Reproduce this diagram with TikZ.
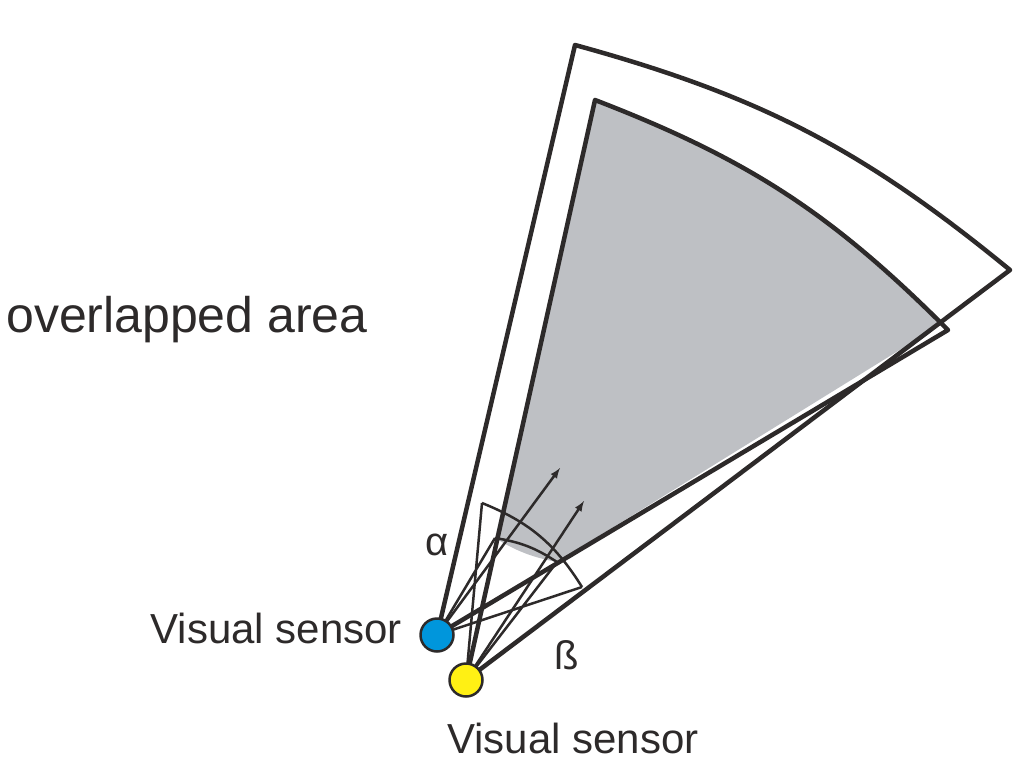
\documentclass[tikz,border=0pt]{standalone}
\usepackage{fontspec}
\setmainfont{Liberation Sans}
\definecolor{sensorblue}{RGB}{0,150,220}
\definecolor{sensoryellow}{RGB}{255,240,20}
\definecolor{areagray}{RGB}{190,192,196}
\definecolor{linegray}{RGB}{45,42,42}
\tikzset{
  edge/.style={draw=linegray,line width=4.5pt,line join=round},
  thin edge/.style={draw=linegray,line width=2.5pt},
  sensor/.style={circle,draw=linegray,line width=2.5pt,minimum size=33pt,inner sep=0pt},
  lbl/.style={text=linegray,inner sep=0pt}
}
\begin{document}
\begin{tikzpicture}[x=1pt,y=-1pt]
   \useasboundingbox (0,0) rectangle (1024,765);

   \coordinate (bs) at (437,635);
   \coordinate (ys) at (466,680);
   \coordinate (btop) at (575,45);
   \coordinate (ytop) at (595,100);
   \coordinate (yright) at (1010,270);
   \coordinate (bright) at (948,330);
   \coordinate (a1) at (482,503);
   \coordinate (a2) at (582,587);
   \coordinate (b1) at (495,538);
   \coordinate (b2) at (557,562);

   % overlapped area
   \fill[areagray] (ytop) to[bend left=12] (940,325) -- (b2) to[bend left=10] (b1) -- cycle;

   % sectors
   \draw[edge] (bs) -- (btop) to[bend left=12] (yright) -- (ys);
   \draw[edge] (ys) -- (ytop) to[bend left=12] (bright) -- (bs);

   % angles
   \draw[thin edge] (a1) to[bend left=18] (a2);
   \draw[thin edge] (b1) to[bend left=12] (b2);
   \draw[thin edge] (bs) -- (b1) (bs) -- (a2) (ys) -- (a1) (ys) -- (b2);
   \draw[thin edge,-latex] (bs) -- (560,468);
   \draw[thin edge,-latex] (ys) -- (584,501);

   \node[sensor,fill=sensorblue] (blue) at (bs) {};
   \node[sensor,fill=sensoryellow] (yellow) at (ys) {};

   \node[lbl,font=\fontsize{50}{50}\selectfont,anchor=west] (area) at (6,320) {overlapped area};
   \node[lbl,font=\fontsize{42}{42}\selectfont,anchor=east] (bname) at (402,628) {Visual sensor};
   \node[lbl,font=\fontsize{42}{42}\selectfont,anchor=west] (yname) at (447,738) {Visual sensor};
   \node[lbl,font=\fontsize{40}{40}\selectfont] (alpha) at (437,545) {α};
   \node[lbl,font=\fontsize{40}{40}\selectfont] (beta) at (567,655) {ß};
\end{tikzpicture}
\end{document}
